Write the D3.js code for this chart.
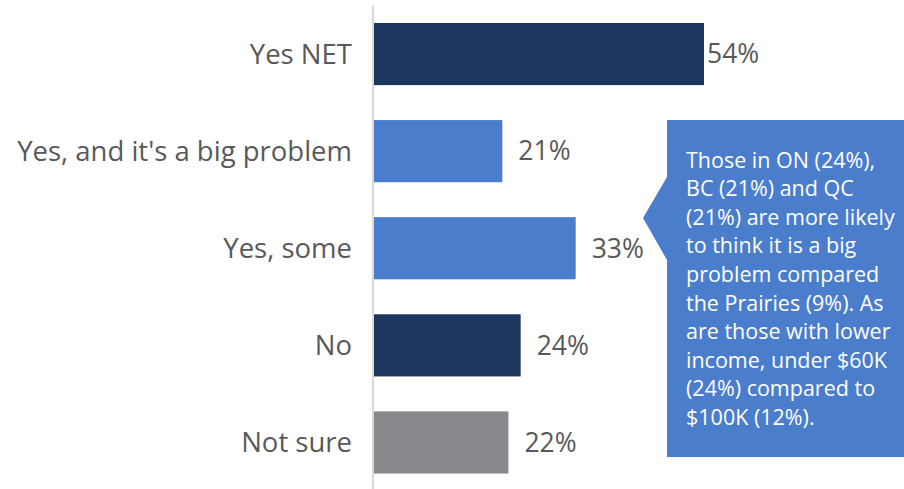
<!DOCTYPE html>
<html>
<head>
  <style>
    body { margin: 0; background: #fff; }
    text { font-family: "Open Sans", sans-serif; }
  </style>
</head>
<body>
<script src="https://d3js.org/d3.v7.min.js"></script>
<svg id="chart"></svg>
<script>
  // data
  var categories = ["Yes NET", "Yes, and it's a big problem", "Yes, some", "No", "Not sure"];
  var values = [0.54, 0.21, 0.33, 0.24, 0.22];
  var barColors = ["#1c365e", "#4a7dcb", "#4a7dcb", "#1c365e", "#87898c"];
  var noteLines = [
    "Those in ON (24%),",
    "BC (21%) and QC",
    "(21%) are more likely",
    "to think it is a big",
    "problem compared",
    "the Prairies (9%). As",
    "are those with lower",
    "income, under $60K",
    "(24%) compared to",
    "$100K (12%)."
  ];

  var width = 904, height = 489;
  var svg = d3.select("#chart").attr("width", width).attr("height", height);

  var x = d3.scaleLinear().domain([0, 0.54]).range([374, 704]);
  var y = d3.scaleBand().domain(categories).range([5.5, 491]).paddingInner(0.36).paddingOuter(0.18);

  // bars
  svg.selectAll(".bar")
    .data(categories)
    .enter()
    .append("rect")
    .attr("class", "bar")
    .attr("x", x(0))
    .attr("y", function(d) { return y(d); })
    .attr("width", function(d, i) { return x(values[i]) - x(0); })
    .attr("height", y.bandwidth())
    .attr("fill", function(d, i) { return barColors[i]; });

  // vertical axis line
  svg.append("line")
    .attr("x1", 373).attr("x2", 373)
    .attr("y1", 5).attr("y2", 489)
    .attr("stroke", "#d9d9d9")
    .attr("stroke-width", 2);

  // category labels
  svg.selectAll(".cat")
    .data(categories)
    .enter()
    .append("text")
    .attr("class", "cat")
    .attr("x", 352)
    .attr("y", function(d) { return y(d) + y.bandwidth() / 2; })
    .attr("dy", "0.35em")
    .attr("text-anchor", "end")
    .attr("fill", "#595959")
    .style("font-size", "27.5px")
    .text(function(d) { return d; });

  // value labels (54% sits close to its bar)
  svg.selectAll(".val")
    .data(categories)
    .enter()
    .append("text")
    .attr("class", "val")
    .attr("x", function(d, i) { return x(values[i]) + (i === 0 ? 3 : 16); })
    .attr("y", function(d) { return y(d) + y.bandwidth() / 2; })
    .attr("dy", "0.35em")
    .attr("fill", "#595959")
    .style("font-size", "26.5px")
    .text(function(d, i) { return Math.round(values[i] * 100) + "%"; });

  // callout box
  var bx = 667, by = 120, bw = 904 - 667, bh = 337;
  svg.append("path")
    .attr("d", "M" + bx + "," + by + "H" + (bx + bw) + "V" + (by + bh) + "H" + bx +
      "V260L643,218L" + bx + ",177Z")
    .attr("fill", "#4a7dcb");

  svg.append("g")
    .selectAll("text")
    .data(noteLines)
    .enter()
    .append("text")
    .attr("x", 686)
    .attr("y", function(d, i) { return 160 + i * 28.6; })
    .attr("dy", "0.35em")
    .attr("fill", "#ffffff")
    .style("font-size", "21.5px")
    .text(function(d) { return d; });
</script>
</body>
</html>
